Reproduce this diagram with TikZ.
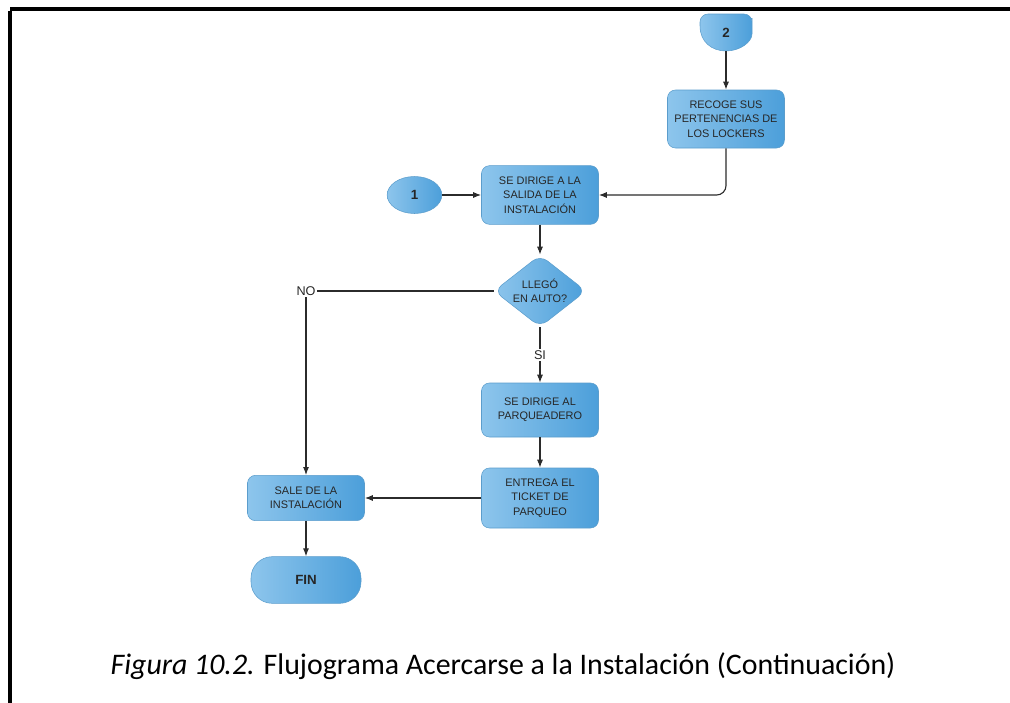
\documentclass[tikz,border=0pt]{standalone}
\usepackage{fontspec}
\setmainfont{Carlito}
\newfontfamily\boxfont{Liberation Sans}
\usetikzlibrary{shapes.geometric, arrows.meta}
\definecolor{box-light}{HTML}{8DC5EC}
\definecolor{box-dark}{HTML}{4C9FDA}
\definecolor{box-line}{HTML}{5B9DCC}
\definecolor{flow-line}{HTML}{2B2B2B}

\begin{document}
\begin{tikzpicture}[x=0.75pt, y=-0.75pt,
      every node/.style={font=\boxfont\fontsize{8.2}{10.8}\selectfont, text=black!85},
      procbox/.style={draw=box-line, left color=box-light, right color=box-dark,
            rounded corners=6pt, minimum width=87.75pt, align=center, inner sep=1pt},
      flow/.style={draw=flow-line, line width=0.85pt, -{Latex[length=6pt, width=4.5pt]}},
      plain/.style={draw=flow-line, line width=0.85pt},
      tag/.style={font=\boxfont\fontsize{9.5}{11}\selectfont, inner sep=1pt}]
      \useasboundingbox (0,0) rectangle (1010,703);
      % marco de la figura
      \fill[black] (10,7) rectangle (1010,11);
      \fill[black] (8,11) rectangle (12,703);
      % conector 2
      \shade[draw=box-line, left color=box-light, right color=box-dark]
            [rounded corners=6pt] (700,26) -- (700,14) -- (752,14) -- (752,26)
            [sharp corners] .. controls (752,42) and (740,51) .. (726,51)
            .. controls (712,51) and (700,42) .. (700,26) -- cycle;
      \node[minimum width=39pt, minimum height=27.75pt, inner sep=0pt,
            font=\boxfont\bfseries\fontsize{10}{11}\selectfont]
            (C2) at (726,32.5) {2};
      \node[procbox, minimum height=43.5pt] (Recoge) at (726,119)
            {RECOGE SUS\\PERTENENCIAS DE\\LOS LOCKERS};
      \node[draw=box-line, left color=box-light, right color=box-dark,
            ellipse, minimum width=41pt, minimum height=27.75pt, inner sep=0pt,
            font=\boxfont\bfseries\fontsize{10}{11}\selectfont]
            (C1) at (414.5,195) {1};
      \node[procbox, minimum height=44pt] (Salida) at (540,195)
            {SE DIRIGE A LA\\SALIDA DE LA\\INSTALACIÓN};
      \node[draw=box-line, left color=box-light, right color=box-dark,
            diamond, rounded corners=7pt, minimum width=69pt, minimum height=54pt,
            aspect=1.3, inner sep=0pt, align=center]
            (Auto) at (540,291) {LLEGÓ\\EN AUTO?};
      \node[tag] (No) at (306,291) {NO};
      \node[tag] (Si) at (540,355) {SI};
      \node[procbox, minimum height=40.5pt] (Parq) at (540,410)
            {SE DIRIGE AL\\PARQUEADERO};
      \node[procbox, minimum height=45pt] (Ticket) at (540,498)
            {ENTREGA EL\\TICKET DE\\PARQUEO};
      \node[procbox, minimum height=34pt] (Sale) at (306,498)
            {SALE DE LA\\INSTALACIÓN};
      \node[draw=box-line, left color=box-light, right color=box-dark,
            rounded corners=16pt, minimum width=82.5pt, minimum height=35pt,
            font=\boxfont\bfseries\fontsize{10}{11}\selectfont]
            (Fin) at (306,580) {FIN};
      \draw[flow] (C2.south) -- (Recoge.north);
      \draw[flow, rounded corners=7pt] (Recoge.south) |- (Salida.east);
      \draw[flow] (C1.east) -- (Salida.west);
      \draw[flow] (Salida.south) -- (Auto.north);
      \draw[plain] (Auto.west) -- (No.east);
      \draw[flow] (No.south) -- (Sale.north);
      \draw[plain] (Auto.south) -- (Si.north);
      \draw[flow] (Si.south) -- (Parq.north);
      \draw[flow] (Parq.south) -- (Ticket.north);
      \draw[flow] (Ticket.west) -- (Sale.east);
      \draw[flow] (Sale.south) -- (Fin.north);
      \node[font=\fontsize{22.4}{26}\selectfont, text=black, inner sep=0pt]
            (Caption) at (503,666)
            {\textit{Figura 10.2.} Flujograma Acercarse a la Instalación (Continuación)};
\end{tikzpicture}
\end{document}
